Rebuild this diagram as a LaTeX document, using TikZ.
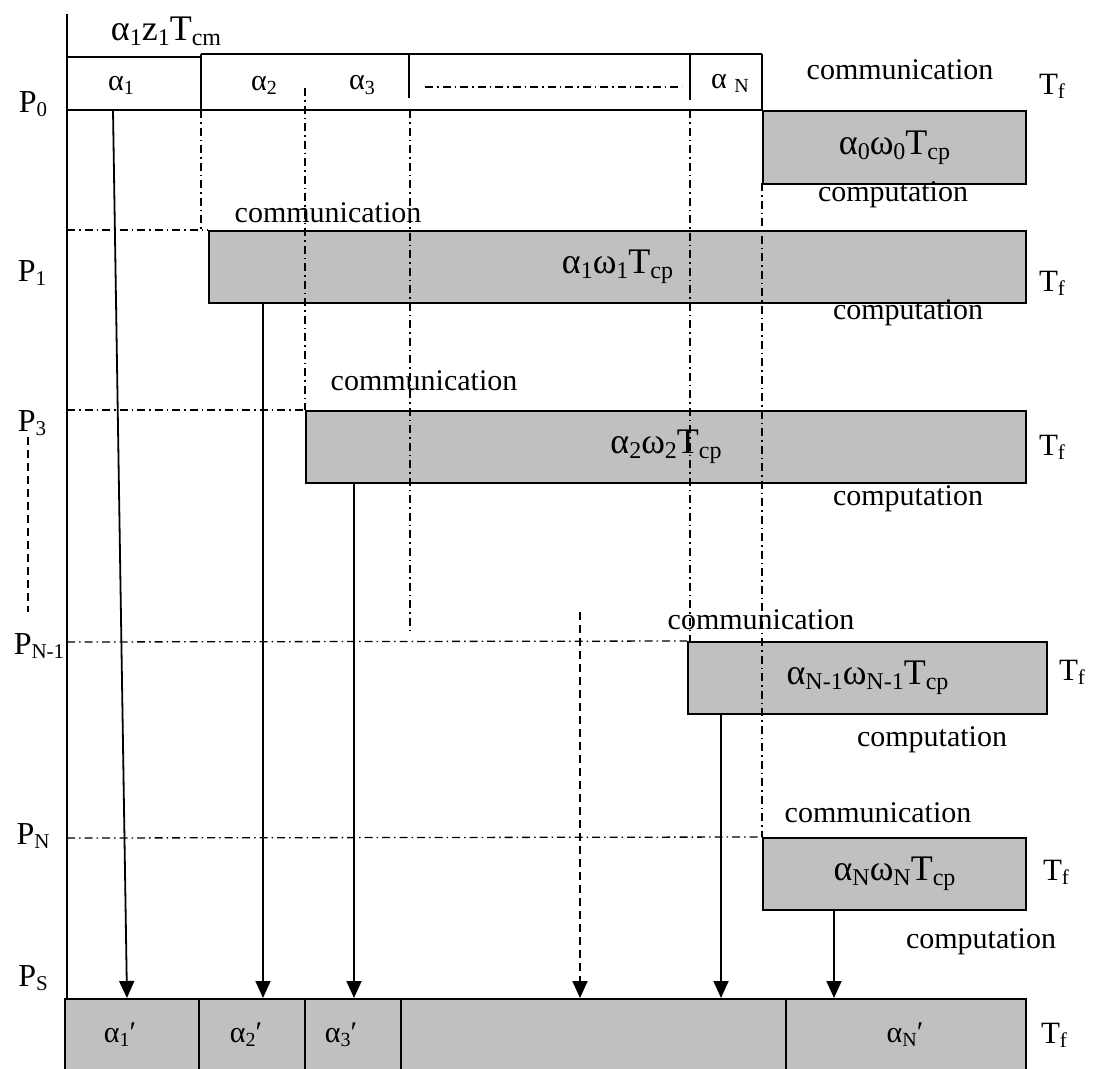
\documentclass[tikz,border=0pt]{standalone}
\usepackage{fontspec}
\setmainfont{Liberation Serif}
\usetikzlibrary{arrows.meta}
\definecolor{boxgray}{HTML}{C0C0C0}
\newcommand\losz{20}
\newcommand\lo[1]{\raisebox{-0.3ex}{\fontsize{\losz}{\losz}\selectfont #1}}
\begin{document}
\begin{tikzpicture}[x=1pt,y=-1pt,
  txt/.style={font={\fontsize{30}{36}\selectfont\def\losz{20}}, inner sep=0pt},
  big/.style={font={\fontsize{36}{42}\selectfont\def\losz{24}}, inner sep=0pt},
  plbl/.style={font={\fontsize{32}{38}\selectfont\def\losz{21}}, inner sep=0pt},
  tf/.style={font={\fontsize{31}{36}\selectfont\def\losz{21}}, inner sep=0pt},
  cbox/.style={draw, line width=2pt, fill=boxgray, inner sep=0pt, anchor=north west, font={\fontsize{36}{42}\selectfont\def\losz{24}}},
  dd/.style={line width=1.3pt, dash pattern=on 8pt off 4pt on 1.5pt off 4pt},
  dsh/.style={line width=1.5pt, dash pattern=on 8pt off 5pt},
  arr/.style={line width=1.8pt, -{Triangle[length=17pt,width=15pt]}},
  ln/.style={line width=1.8pt}]
\useasboundingbox (0,0) rectangle (1110,1068);

% bottom (sink) box
\node[cbox, minimum width=961pt, minimum height=80pt] (bs) at (64,998) {};
\draw[ln] (199,998) -- (199,1070);
\draw[ln] (305,998) -- (305,1070);
\draw[ln] (401,998) -- (401,1070);
\draw[ln] (786,998) -- (786,1070);
\node[txt] (s1) at (120,1035) {α\lo{1}′};
\node[txt] (s2) at (246,1035) {α\lo{2}′};
\node[txt] (s3) at (341,1035) {α\lo{3}′};
\node[txt] (sN) at (905,1035) {α\lo{N}′};

% axis
\draw[ln] (67,14) -- (67,998);

% top communication row
\draw[ln] (67,57) -- (201,57);
\draw[ln] (201,54) -- (762,54);
\draw[ln] (201,54) -- (201,110);
\draw[ln] (409,54) -- (409,98);
\draw[ln] (690,54) -- (690,100);
\draw[ln] (762,54) -- (762,110);
\draw[ln] (67,110) -- (762,110);
\draw[dd] (425,87) -- (682,87);
\node[big] (top) at (166,31) {α\lo{1}z\lo{1}T\lo{cm}};
\node[txt] (c1) at (121,85) {α\lo{1}};
\node[txt] (c2) at (264,85) {α\lo{2}};
\node[txt] (c3) at (362,85) {α\lo{3}};
\node[txt] (cN) at (730,83) {α \lo{N}};

% computation boxes
\node[cbox, minimum width=263pt, minimum height=73pt] (b0) at (762,110) {α\lo{0}ω\lo{0}T\lo{cp}};
\node[cbox, minimum width=817pt, minimum height=72pt] (b1) at (208,230) {α\lo{1}ω\lo{1}T\lo{cp}};
\node[cbox, minimum width=720pt, minimum height=72pt] (b2) at (305,410) {α\lo{2}ω\lo{2}T\lo{cp}\hspace{10pt}};
\node[cbox, minimum width=359pt, minimum height=72pt] (b3) at (687,641) {α\lo{N-1}ω\lo{N-1}T\lo{cp}};
\node[cbox, minimum width=263pt, minimum height=72pt] (b4) at (762,837) {α\lo{N}ω\lo{N}T\lo{cp}};

% dash-dot guides
\draw[dd] (67,230) -- (b1.north west);
\draw[dd] (67,410) -- (b2.north west);
\draw[dd] (67,642) -- (b3.north west);
\draw[dd] (67,838) -- (b4.north west);
\draw[dd] (201,110) -- (201,230);
\draw[dd] (305,88) -- (305,410);
\draw[dd] (410,110) -- (410,632);
\draw[dd] (690,110) -- (690,641);
\draw[dd] (762,183) -- (762,837);
\draw[dsh] (28,437) -- (28,612);

% arrows to sink
\coordinate (t1) at (127,998);
\coordinate (t2) at (263,998);
\coordinate (t3) at (354,998);
\coordinate (tm) at (580,998);
\coordinate (t4) at (721,998);
\coordinate (t5) at (834,998);
\coordinate (a1) at (113,110);
\coordinate (am) at (580,612);
\draw[arr] (a1) -- (t1);
\draw[arr] (b1.south -| t2) -- (t2);
\draw[arr] (b2.south -| t3) -- (t3);
\draw[arr, dash pattern=on 8pt off 5pt] (am) -- (tm);
\draw[arr] (b3.south -| t4) -- (t4);
\draw[arr] (b4.south -| t5) -- (t5);

% processor labels
\node[plbl] (p0) at (33,104) {P\lo{0}};
\node[plbl] (p1) at (32,273) {P\lo{1}};
\node[plbl] (p3) at (32,423) {P\lo{3}};
\node[plbl] (pn1) at (39,646) {P\lo{N-1}};
\node[plbl] (pn) at (33,836) {P\lo{N}};
\node[plbl] (ps) at (33,978) {P\lo{S}};

% communication / computation labels
\node[txt] (m0) at (900,70) {communication};
\node[txt] (m1) at (328,213) {communication};
\node[txt] (m2) at (424,381) {communication};
\node[txt] (m3) at (761,620) {communication};
\node[txt] (m4) at (878,813) {communication};
\node[txt] (k0) at (893,195) {computation};
\node[txt] (k1) at (908,313) {computation};
\node[txt] (k2) at (908,499) {computation};
\node[txt] (k3) at (932,740) {computation};
\node[txt] (k4) at (981,942) {computation};

% T_f labels
\node[tf] (f0) at (1052,86) {T\lo{f}};
\node[tf] (f1) at (1052,283) {T\lo{f}};
\node[tf] (f2) at (1052,447) {T\lo{f}};
\node[tf] (f3) at (1072,672) {T\lo{f}};
\node[tf] (f4) at (1056,872) {T\lo{f}};
\node[tf] (f5) at (1054,1035) {T\lo{f}};
\end{tikzpicture}
\end{document}
